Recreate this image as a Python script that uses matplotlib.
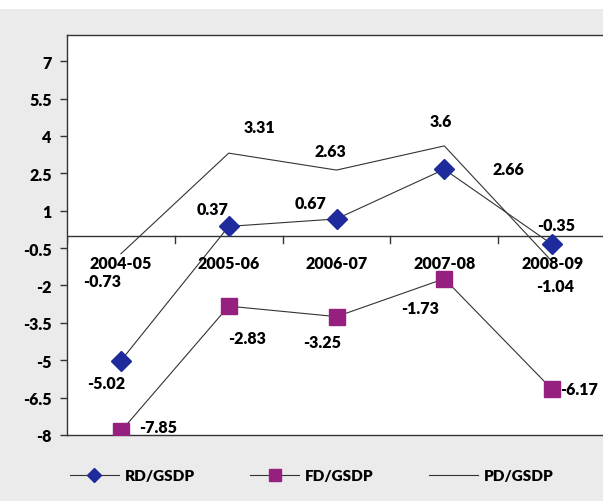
import numpy as np
import matplotlib.pyplot as plt
from matplotlib.lines import Line2D
from matplotlib.patches import Rectangle

years = ['2004-05', '2005-06', '2006-07', '2007-08', '2008-09']
rd = [-5.02, 0.37, 0.67, 2.66, -0.35]
fd = [-7.85, -2.83, -3.25, -1.73, -6.17]
pd_ = [-0.73, 3.31, 2.63, 3.6, -1.04]
yticks = [7, 5.5, 4, 2.5, 1, -0.5, -2, -3.5, -5, -6.5, -8]

# label offsets in pixels (dx, dy) for each point
rd_off = [(-15, -22), (-16, 17), (-26, 16), (64, 0), (4, 19)]
fd_off = [(37, 4), (18, -32), (-14, -25), (-24, -29), (27, 0)]
pd_off = [(-19, -27), (31, 26), (-6, 19), (-3, 25), (3, -24)]

plt.rcParams['font.family'] = ['Lato', 'DejaVu Sans']
plt.rcParams['font.weight'] = 'bold'

fig = plt.figure(figsize=(6.03, 5.02), dpi=100)
fig.patch.set_facecolor('#ebebeb')
fig.patches.append(Rectangle((0, 1 - 10/502), 1, 10/502, transform=fig.transFigure,
                             facecolor='white', edgecolor='none', zorder=0))
ax = fig.add_axes([67/603, 1 - 436/502, (606 - 67)/603, 400/502])
ax.set_facecolor('white')

x = np.arange(len(years))
ax.plot(x, rd, color='#333333', lw=0.8, marker='D', ms=10.5,
        mfc='#1f2a9c', mec='#1f2a9c', zorder=3)
ax.plot(x, fd, color='#333333', lw=0.8, marker='s', ms=11,
        mfc='#962080', mec='#962080', zorder=3)
ax.plot(x, pd_, color='#333333', lw=0.8, zorder=2)

for vals, offs in [(rd, rd_off), (fd, fd_off), (pd_, pd_off)]:
    for xi, v, (dx, dy) in zip(x, vals, offs):
        ax.annotate(f'{v:g}', (xi, v), xytext=(dx, dy), textcoords='offset pixels',
                    ha='center', va='center', fontsize=11.5, fontweight='heavy')

# category labels sit just below the zero line
for xi, lab in zip(x, years):
    ax.annotate(lab, (xi, 0), xytext=(0, -27), textcoords='offset pixels',
                ha='center', va='center', fontsize=11.5, fontweight='heavy')

ax.axhline(0, color='#333333', lw=1.0, zorder=1)
for b in np.arange(-0.5, len(years), 1.0):
    ax.plot([b, b], [0, -0.3], color='#333333', lw=1.0, zorder=1)

ax.set_xlim(-0.5, len(years) - 0.5)
ax.set_ylim(-8, 8.05)
ax.set_xticks([])
ax.set_yticks(yticks)
ax.set_yticklabels([f'{t:g}' for t in yticks], fontsize=11.5, fontweight='heavy')
ax.tick_params(axis='y', length=5, width=1, color='#333333', pad=6)
ax.spines['right'].set_visible(False)
for s in ['left', 'top', 'bottom']:
    ax.spines[s].set_color('#333333')
    ax.spines[s].set_linewidth(1.0)

handles = [
    Line2D([], [], color='#333333', lw=0.8, marker='D', ms=7,
           mfc='#1f2a9c', mec='#1f2a9c'),
    Line2D([], [], color='#333333', lw=0.8, marker='s', ms=8.5,
           mfc='#962080', mec='#962080'),
    Line2D([], [], color='#333333', lw=0.8),
]
fig.legend(handles, ['RD/GSDP', 'FD/GSDP', 'PD/GSDP'], loc='center',
           bbox_to_anchor=(0.517, 1 - 477/502), ncol=3, frameon=False,
           handlelength=3.2, handletextpad=0.4, columnspacing=3.6,
           prop={'weight': 'heavy', 'size': 11})

fig.savefig('out.png', dpi=100, facecolor=fig.get_facecolor())
